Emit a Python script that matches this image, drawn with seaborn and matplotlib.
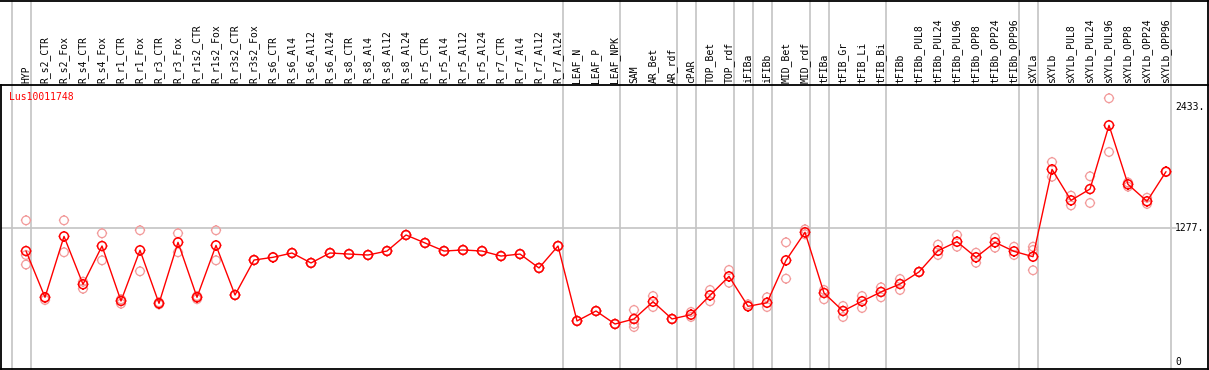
import numpy as np
import pandas as pd
import matplotlib
matplotlib.use("Agg")
import matplotlib.pyplot as plt
import matplotlib.transforms as mtransforms
from matplotlib.path import Path
from matplotlib.lines import Line2D
import seaborn as sns

# ---------------- data ----------------
samples = ["HYP", "R_s2_CTR", "R_s2_Fox", "R_s4_CTR", "R_s4_Fox", "R_r1_CTR", "R_r1_Fox",
           "R_r3_CTR", "R_r3_Fox", "R_r1s2_CTR", "R_r1s2_Fox", "R_r3s2_CTR", "R_r3s2_Fox",
           "R_s6_CTR", "R_s6_Al4", "R_s6_Al12", "R_s6_Al24", "R_s8_CTR", "R_s8_Al4",
           "R_s8_Al12", "R_s8_Al24", "R_r5_CTR", "R_r5_Al4", "R_r5_Al12", "R_r5_Al24",
           "R_r7_CTR", "R_r7_Al4", "R_r7_Al12", "R_r7_Al24", "LEAF_N", "LEAF_P", "LEAF_NPK",
           "SAM", "AR_Bet", "AR_rdf", "cPAR", "TOP_Bet", "TOP_rdf", "iFIBa", "iFIBb",
           "MID_Bet", "MID_rdf", "tFIBa", "tFIB_Gr", "tFIB_Li", "tFIB_Bi", "tFIBb",
           "tFIBb_PUL8", "tFIBb_PUL24", "tFIBb_PUL96", "tFIBb_OPP8", "tFIBb_OPP24",
           "tFIBb_OPP96", "sXYLa", "sXYLb", "sXYLb_PUL8", "sXYLb_PUL24", "sXYLb_PUL96",
           "sXYLb_OPP8", "sXYLb_OPP24", "sXYLb_OPP96"]

mean_expr = [1060, 618, 1200, 742, 1108, 583, 1067, 560, 1143, 618, 1114, 640, 974,
             1000, 1041, 946, 1041, 1031, 1022, 1060, 1213, 1137, 1060, 1070, 1060,
             1012, 1031, 898, 1108, 392, 487, 363,
             411, 576, 411, 452, 637, 818, 532, 566,
             971, 1239, 659, 487, 580, 669, 745,
             860, 1063, 1149, 1000, 1143,
             1057, 1006, 1840, 1544, 1652, 2261,
             1697, 1535, 1818]

nan = np.nan
rep1 = [1353, 592, 1353, 767, 1229, 599, 1258, 570, 1229, 630, 1258, 640, 974,
        1000, 1041, 946, 1041, 1031, 1022, 1060, 1213, 1137, 1060, 1070, 1060,
        1012, 1031, 898, 1108, 392, 487, 363,
        497, 630, 411, 478, 688, 879, 551, 618,
        1143, 1267, 688, 535, 630, 713, 793,
        860, 1121, 1213, 1044, 1187,
        1101, 1101, 1910, 1589, 1774, 2519,
        1675, 1569, 1818]
rep2 = [1022, 610, 1048, 700, 971, 557, 866, 550, 1048, 600, 971, 640, 974,
        1000, 1041, 946, 1041, 1031, 1022, 1060, 1213, 1137, 1060, 1070, 1060,
        1012, 1031, 898, 1108, 392, 487, 363,
        363, 525, 411, 430, 580, 757, 532, 525,
        796, 1220, 599, 430, 516, 618, 688,
        860, 1022, 1101, 948, 1092,
        1022, 1070, 1770, 1496, 1519, 2006,
        1715, 1510, 1818]
rep3 = [931, nan, nan, nan, nan, nan, nan, nan, nan, nan, nan, nan, nan,
        nan, nan, nan, nan, nan, nan, nan, nan, nan, nan, nan, nan,
        nan, nan, nan, nan, nan, nan, nan,
        334, nan, nan, nan, nan, nan, nan, nan,
        nan, nan, nan, nan, nan, nan, nan,
        nan, nan, nan, nan, nan,
        nan, 876, nan, nan, nan, nan,
        nan, nan, nan]

group_ends = [-1, 0, 28, 31, 34, 35, 37, 38, 39, 41, 42, 45, 52, 53, 60]
axis_values = [0, 1277, 2433]
axis_labels = ["0", "1277.", "2433."]
gene_id = "Lus10011748"

# ---------------- figure ----------------
sns.set_theme(style="white")
plt.rcParams["font.family"] = ["DejaVu Sans Mono", "DejaVu Sans"]

W, H = 1209, 370
fig = plt.figure(figsize=(W / 100, H / 100), dpi=100)
ax = fig.add_axes([1 / W, 1 - 369 / H, (1208 - 1) / W, (369 - 85) / H])

xs = np.arange(len(samples))
ax.set_xlim(-1.316, 62.21)
ax.set_ylim(-67, 2646)

grey = "#c4c4c4"
red = "#ff0000"
pink = "#f29a9a"

# marker: polygonal circle with four tiny ticks
ang = np.linspace(0, 2 * np.pi, 41)
cv = list(zip(np.cos(ang), np.sin(ang)))
cc = [Path.MOVETO] + [Path.LINETO] * 39 + [Path.CLOSEPOLY]
tk = 1.22
tv = [(0, 1), (0, tk), (0, -1), (0, -tk), (1, 0), (tk, 0), (-1, 0), (-tk, 0)]
tc = [Path.MOVETO, Path.LINETO] * 4
gear = Path(cv + tv, cc + tc)

# separators spanning whole height
blend_fig = mtransforms.blended_transform_factory(ax.transData, fig.transFigure)
for g in group_ends:
    ax.plot([g + 0.24, g + 0.24], [0, 1], transform=blend_fig, color=grey,
            lw=1.2, clip_on=False, zorder=0.5)

ax.axhline(1277, xmin=0, xmax=(1176 - 1) / 1207, color=grey, lw=1.2, zorder=0.5)

# replicates
reps = pd.DataFrame({
    "x": np.concatenate([xs, xs, xs]),
    "v": np.concatenate([rep1, rep2, rep3]),
}).dropna()
sns.scatterplot(data=reps, x="x", y="v", marker=gear, s=56, facecolor="none",
                edgecolor=pink, linewidth=0.9, ax=ax, zorder=2, legend=False)

main = pd.DataFrame({"x": xs, "v": mean_expr})
sns.lineplot(data=main, x="x", y="v", color=red, lw=1.0, ax=ax, zorder=3, legend=False)
sns.scatterplot(data=main, x="x", y="v", marker=gear, s=60, facecolor="none",
                edgecolor=red, linewidth=1.1, ax=ax, zorder=4, legend=False)

ax.set_xticks([])
ax.set_yticks([])
ax.set_xlabel("")
ax.set_ylabel("")
for sp in ax.spines.values():
    sp.set_color("black")
    sp.set_linewidth(1.3)

# right-side value labels
blend_ax = mtransforms.blended_transform_factory(ax.transAxes, ax.transData)
for v, lab in zip(axis_values, axis_labels):
    ax.text((1175 - 1) / 1207, v, lab, transform=blend_ax, ha="left", va="center",
            fontsize=7, color="black")

# column labels
for i, name in enumerate(samples):
    ax.text(i, 1 - 83 / H, name, transform=blend_fig, rotation=90, ha="center",
            va="bottom", fontsize=7, color="black", clip_on=False)

fig.text(9 / W, 1 - 97 / H, gene_id, color=red, ha="left", va="center", fontsize=7)

# outer frame above the plot
fig.add_artist(Line2D([0, 1208.5 / W], [1 - 0.5 / H, 1 - 0.5 / H], color="black", lw=1.3))
fig.add_artist(Line2D([1208 / W, 1208 / W], [1 - 85 / H, 1], color="black", lw=1.3))

fig.savefig("out.png", dpi=100)
